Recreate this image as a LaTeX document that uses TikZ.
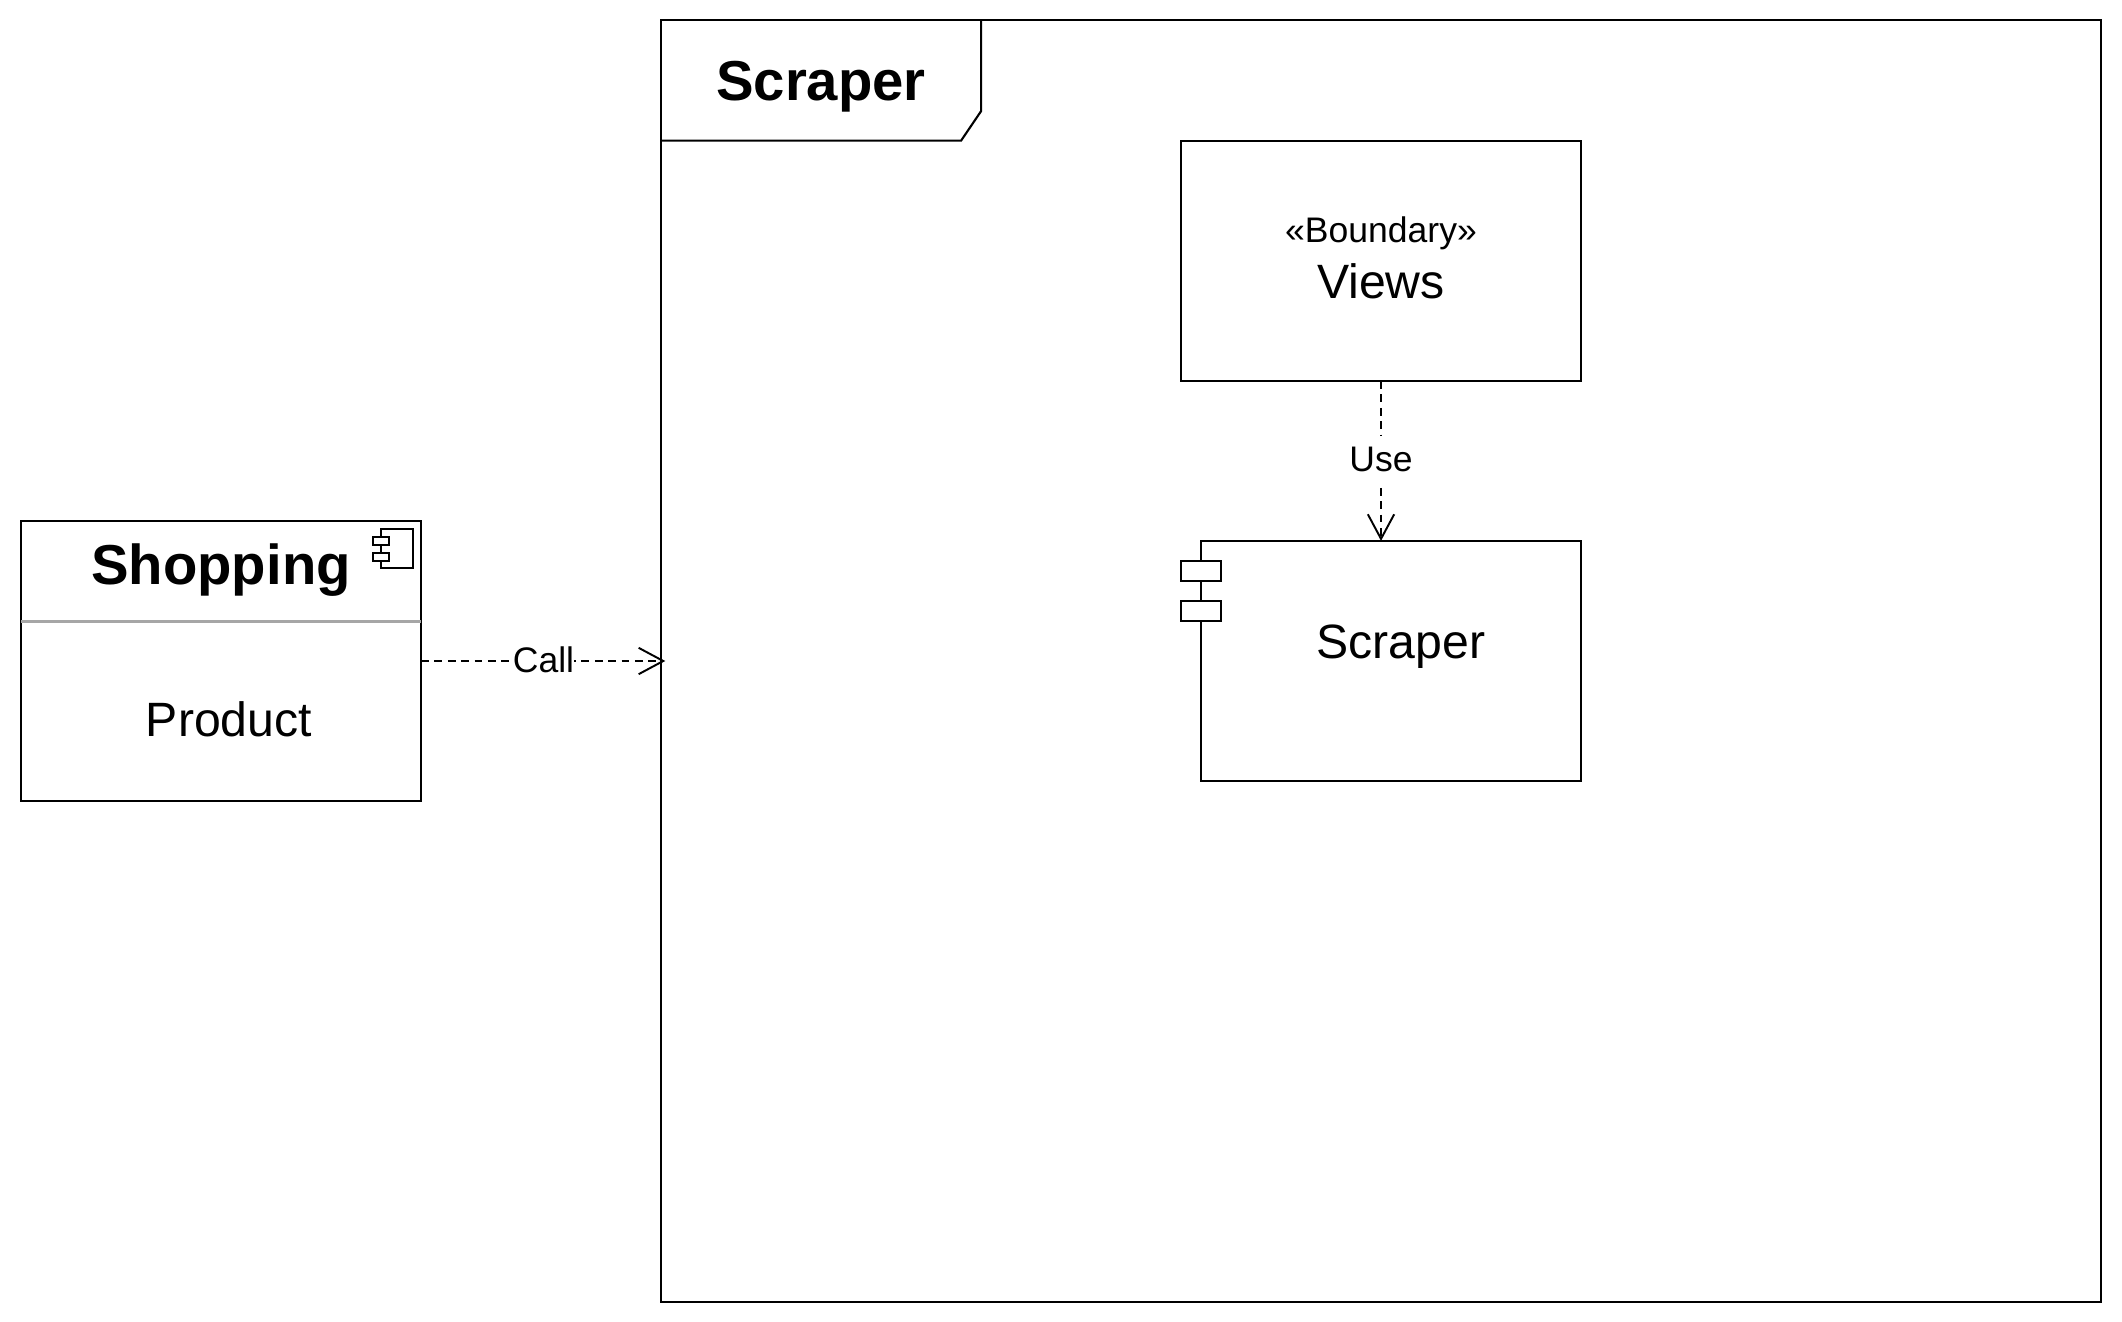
\documentclass[tikz,border=0pt]{standalone}
\usepackage{fontspec}
\setmainfont{Liberation Sans}
\usetikzlibrary{arrows.meta}
\tikzset{
    umlbox/.style={draw,rectangle,inner sep=0pt,outer sep=0pt,line width=0.6pt},
    boldtext/.style={inner sep=0pt,font=\fontsize{16}{19}\selectfont\bfseries},
    bigtext/.style={inner sep=0pt,font=\fontsize{13.7}{16}\selectfont},
    smalltext/.style={inner xsep=0pt,inner ysep=1.5pt,font=\fontsize{10.1}{12}\selectfont},
    dep/.style={->,dash pattern=on 2.2pt off 1.6pt,line width=0.55pt},
}
\begin{document}
\begin{tikzpicture}[>={Straight Barb[length=7pt,width=7.5pt]},x=0.01cm,y=-0.01cm]
    \useasboundingbox (0,0) rectangle (2122,1322);
    \node[umlbox,minimum width=14.39cm,minimum height=12.81cm](frame) at (1381,661){};
    \draw[line width=0.6pt](frame.north west)++(0,120.5)--++(300,0)--++(20,-29.5)--++(0,-91);
    \node[boldtext](frametitle) at (821,87){Scraper};
    \node[umlbox,minimum width=4cm,minimum height=2.8cm](shopping) at (221,661){};
    \draw[line width=0.6pt,gray!70](shopping.west|-0,621.5)--(shopping.east|-0,621.5);
    \node[boldtext](shoppingtitle) at (221,570.5){Shopping};
    \node[bigtext](product) at (229,719){Product};
    \draw[line width=0.5pt](381,529)rectangle(413,568);
    \draw[line width=0.5pt,fill=white](373,537)rectangle(389,545);
    \draw[line width=0.5pt,fill=white](373,553)rectangle(389,561);
    \node[umlbox,minimum width=3.99cm,minimum height=2.4cm](views) at (1381,261){};
    \node[smalltext,inner sep=0pt](boundary) at (1381,233){«Boundary»};
    \node[bigtext](viewsname) at (1381,281){Views};
    \node[umlbox,minimum width=3.8cm,minimum height=2.4cm](scraper) at (1391,661){};
    \foreach \y in {571,611}
        \node[umlbox,fill=white,minimum width=0.4cm,minimum height=0.2cm] at (1201,\y){};
    \node[bigtext](scrapername) at (1401,647){Scraper};
    \draw[dep,shorten >=-1.2pt](shopping.east)--(frame.west)node[pos=.51,yshift=0.3pt,fill=white,smalltext]{Call};
    \draw[dep](views.south)--(views.south|-scraper.north)node[pos=.49,fill=white,smalltext,inner ysep=3pt]{Use};
\end{tikzpicture}
\end{document}
